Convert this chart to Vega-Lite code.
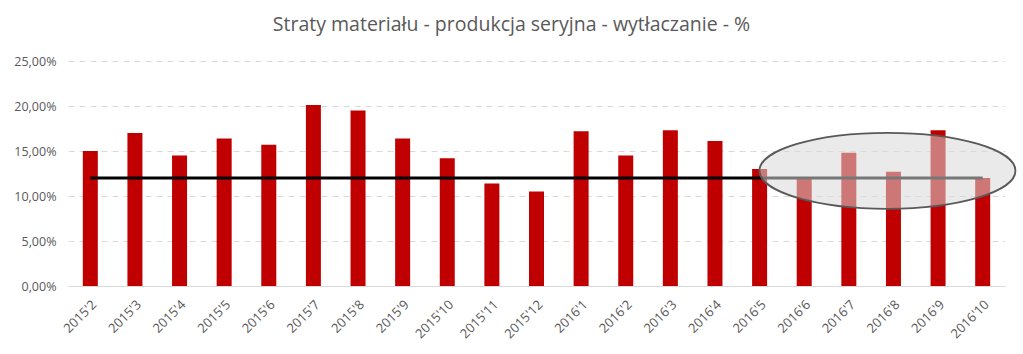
{
  "$schema": "https://vega.github.io/schema/vega-lite/v6.json",
  "width": 937,
  "height": 225,
  "autosize": {"type": "none"},
  "padding": {"left": 68, "top": 61, "right": 18, "bottom": 68},
  "background": "white",
  "config": {"view": {"stroke": null}},
  "title": {
    "text": "Straty materiału - produkcja seryjna - wytłaczanie - %",
    "font": "Open Sans",
    "fontSize": 19.5,
    "fontWeight": "normal",
    "color": "#595959",
    "anchor": "middle",
    "dx": -25,
    "offset": 20
  },
  "datasets": {
    "main": [
      {"m": "2015'2", "v": 0.150, "t": 0.12},
      {"m": "2015'3", "v": 0.170, "t": 0.12},
      {"m": "2015'4", "v": 0.145, "t": 0.12},
      {"m": "2015'5", "v": 0.164, "t": 0.12},
      {"m": "2015'6", "v": 0.157, "t": 0.12},
      {"m": "2015'7", "v": 0.201, "t": 0.12},
      {"m": "2015'8", "v": 0.195, "t": 0.12},
      {"m": "2015'9", "v": 0.164, "t": 0.12},
      {"m": "2015'10", "v": 0.142, "t": 0.12},
      {"m": "2015'11", "v": 0.114, "t": 0.12},
      {"m": "2015'12", "v": 0.105, "t": 0.12},
      {"m": "2016'1", "v": 0.172, "t": 0.12},
      {"m": "2016'2", "v": 0.145, "t": 0.12},
      {"m": "2016'3", "v": 0.173, "t": 0.12},
      {"m": "2016'4", "v": 0.161, "t": 0.12},
      {"m": "2016'5", "v": 0.130, "t": 0.12},
      {"m": "2016'6", "v": 0.120, "t": 0.12},
      {"m": "2016'7", "v": 0.148, "t": 0.12},
      {"m": "2016'8", "v": 0.127, "t": 0.12},
      {"m": "2016'9", "v": 0.173, "t": 0.12},
      {"m": "2016'10", "v": 0.120, "t": 0.12}
    ],
    "mark": [
      {"m": "2016'8", "v": 0.128}
    ]
  },
  "layer": [
    {
      "data": {"name": "main"},
      "mark": {"type": "bar", "color": "#c00000", "width": 15},
      "encoding": {
        "x": {
          "field": "m", "type": "nominal", "sort": null,
          "scale": {"paddingInner": 0.66, "paddingOuter": 0.33},
          "axis": {
            "title": null, "labelAngle": -45, "labelAlign": "right", "labelBaseline": "top",
            "labelFont": "Open Sans", "labelFontSize": 13, "labelColor": "#595959",
            "ticks": false, "domain": true, "domainColor": "#d9d9d9", "domainWidth": 1,
            "labelPadding": 12, "labelOffset": 0
          }
        },
        "y": {
          "field": "v", "type": "quantitative",
          "scale": {"domain": [0, 0.25], "padding": 0, "nice": false, "zero": true},
          "axis": {
            "title": null, "values": [0, 0.05, 0.1, 0.15, 0.2, 0.25],
            "labelExpr": "replace(format(datum.value, '.2%'), '.', ',')",
            "labelFont": "Open Sans", "labelFontSize": 12.5, "labelColor": "#595959",
            "ticks": false, "domain": false, "labelPadding": 12,
            "grid": true, "gridColor": "#d9d9d9", "gridDash": [6, 5], "gridWidth": 1
          }
        }
      }
    },
    {
      "data": {"name": "main"},
      "mark": {"type": "line", "color": "#000000", "strokeWidth": 3},
      "encoding": {
        "x": {"field": "m", "type": "nominal", "sort": null},
        "y": {"field": "t", "type": "quantitative"}
      }
    },
    {
      "data": {"name": "mark"},
      "mark": {
        "type": "point",
        "shape": "M-1,0A1,0.297 0 1,1 1,0A1,0.297 0 1,1 -1,0Z",
        "size": 65536,
        "filled": true,
        "fill": "#d9d9d9",
        "fillOpacity": 0.55,
        "stroke": "#595959",
        "strokeWidth": 1.8,
        "strokeOpacity": 1,
        "opacity": 1,
        "xOffset": -6
      },
      "encoding": {
        "x": {"field": "m", "type": "nominal", "sort": null},
        "y": {"field": "v", "type": "quantitative"}
      }
    }
  ]
}
